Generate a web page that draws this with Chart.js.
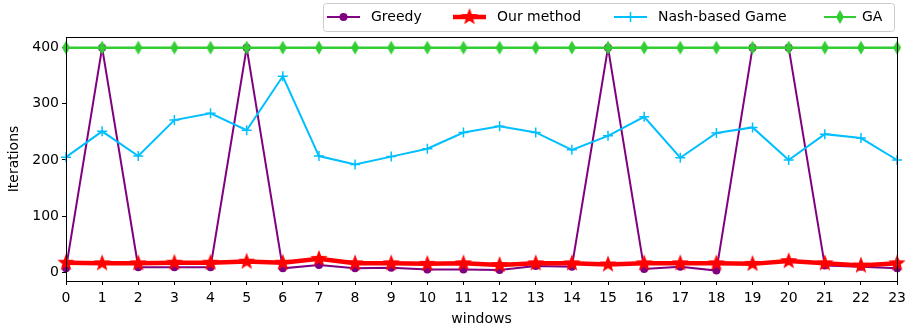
<!DOCTYPE html>
<html>
<head>
<meta charset="utf-8">
<script src="https://cdn.jsdelivr.net/npm/chart.js@4/dist/chart.umd.min.js"></script>
<style>
  html, body { margin: 0; padding: 0; background: #fff; }
  canvas { display: block; }
</style>
</head>
<body>
<canvas id="iterChart" width="911" height="328"></canvas>
<script>
// chart data
const windows = ['0','1','2','3','4','5','6','7','8','9','10','11','12','13','14','15','16','17','18','19','20','21','22','23'];
const greedy = [7, 400, 9, 9, 9, 400, 7, 13, 7, 8, 5, 5, 4, 11, 10, 400, 6, 10, 3, 400, 400, 12, 10, 7];
const ourMethod = [17, 16, 16, 17, 17, 19, 17, 24, 16, 16, 15, 16, 13, 16, 16, 14, 16, 16, 16, 15, 20, 16, 12, 16];
const nashGame = [205, 251, 207, 271, 283, 253, 349, 207, 192, 206, 220, 249, 260, 249, 218, 243, 277, 204, 248, 258, 200, 246, 239, 200];
const ga = [400, 400, 400, 400, 400, 400, 400, 400, 400, 400, 400, 400, 400, 400, 400, 400, 400, 400, 400, 400, 400, 400, 400, 400];
const yTicks = [0, 100, 200, 300, 400];

const FONT = 'DejaVu Sans';

// marker images
function starMarker(color, r) {
    const c = document.createElement('canvas');
    c.width = c.height = Math.ceil(r * 2 + 2);
    const g = c.getContext('2d');
    const cx = c.width / 2, cy = c.height / 2, ri = r * 0.42;
    g.beginPath();
    for (let i = 0; i < 10; i++) {
        const rad = i % 2 === 0 ? r : ri;
        const a = -Math.PI / 2 + i * Math.PI / 5;
        g.lineTo(cx + rad * Math.cos(a), cy + rad * Math.sin(a));
    }
    g.closePath();
    g.fillStyle = color;
    g.fill();
    return c;
}

function thinDiamond(color, w, h) {
    const c = document.createElement('canvas');
    c.width = w + 2;
    c.height = h + 2;
    const g = c.getContext('2d');
    const cx = c.width / 2, cy = c.height / 2;
    g.beginPath();
    g.moveTo(cx, cy - h / 2);
    g.lineTo(cx + w / 2, cy);
    g.lineTo(cx, cy + h / 2);
    g.lineTo(cx - w / 2, cy);
    g.closePath();
    g.fillStyle = color;
    g.fill();
    return c;
}

const starImg = starMarker('#ff0000', 9);
const diamondImg = thinDiamond('#32cd32', 8, 14);

// legend box in the upper right, drawn by hand (line + marker + text)
const legendBox = {
    id: 'legendBox',
    afterDraw(chart) {
        const ctx = chart.ctx;
        const x0 = 323, y0 = 3, w = 571, h = 28;
        ctx.save();
        ctx.fillStyle = 'rgba(255,255,255,0.8)';
        ctx.strokeStyle = '#cccccc';
        ctx.lineWidth = 1;
        ctx.beginPath();
        ctx.roundRect(x0 + 0.5, y0 + 0.5, w, h, 3);
        ctx.fill();
        ctx.stroke();

        const items = [
            { label: 'Greedy', color: '#800080', lw: 2, lx: 327, tx: 371, mark: 'circle' },
            { label: 'Our method', color: '#ff0000', lw: 4.5, lx: 453, tx: 497, mark: 'star' },
            { label: 'Nash-based Game', color: '#00bfff', lw: 2, lx: 614, tx: 658, mark: 'plus' },
            { label: 'GA', color: '#32cd32', lw: 2, lx: 824, tx: 862, mark: 'diamond' }
        ];
        const cy = 17;
        items.forEach(it => {
            const len = it.label === 'GA' ? 32 : 33;
            ctx.strokeStyle = it.color;
            ctx.lineWidth = it.lw;
            ctx.beginPath();
            ctx.moveTo(it.lx, cy);
            ctx.lineTo(it.lx + len, cy);
            ctx.stroke();
            const mx = it.lx + len / 2;
            if (it.mark === 'circle') {
                ctx.fillStyle = it.color;
                ctx.beginPath();
                ctx.arc(mx, cy, 4, 0, Math.PI * 2);
                ctx.fill();
            } else if (it.mark === 'star') {
                ctx.drawImage(starImg, mx - starImg.width / 2, cy - starImg.height / 2);
            } else if (it.mark === 'plus') {
                ctx.lineWidth = 1.5;
                ctx.beginPath();
                ctx.moveTo(mx - 5, cy); ctx.lineTo(mx + 5, cy);
                ctx.moveTo(mx, cy - 5); ctx.lineTo(mx, cy + 5);
                ctx.stroke();
            } else {
                ctx.drawImage(diamondImg, mx - diamondImg.width / 2, cy - diamondImg.height / 2);
            }
            ctx.fillStyle = '#000';
            ctx.font = '14px "' + FONT + '"';
            ctx.textBaseline = 'middle';
            ctx.fillText(it.label, it.tx, cy);
        });
        ctx.restore();
    }
};

// top and right spines
const frame = {
    id: 'frame',
    afterDatasetsDraw(chart) {
        const a = chart.chartArea;
        const ctx = chart.ctx;
        ctx.save();
        ctx.strokeStyle = '#000';
        ctx.lineWidth = 1;
        ctx.strokeRect(Math.round(a.left) + 0.5, Math.round(a.top) + 0.5,
            Math.round(a.right - a.left), Math.round(a.bottom - a.top));
        ctx.restore();
    }
};

new Chart(document.getElementById('iterChart').getContext('2d'), {
    type: 'line',
    data: {
        labels: windows,
        datasets: [
            {
                label: 'Greedy', data: greedy, order: 3,
                borderColor: '#800080', backgroundColor: '#800080', borderWidth: 2,
                pointStyle: 'circle', pointRadius: 4, pointBorderWidth: 0
            },
            {
                label: 'Our method', data: ourMethod, order: 2,
                borderColor: '#ff0000', backgroundColor: '#ff0000', borderWidth: 4.5,
                pointStyle: starImg, pointRadius: 9
            },
            {
                label: 'Nash-based Game', data: nashGame, order: 1,
                borderColor: '#00bfff', backgroundColor: '#00bfff', borderWidth: 2,
                pointStyle: 'cross', pointRadius: 5, pointBorderWidth: 1.5
            },
            {
                label: 'GA', data: ga, order: 0,
                borderColor: '#32cd32', backgroundColor: '#32cd32', borderWidth: 2.5,
                pointStyle: diamondImg, pointRadius: 7
            }
        ]
    },
    options: {
        responsive: false,
        animation: false,
        layout: { padding: { top: 37, right: 12, left: 0, bottom: 0 } },
        plugins: {
            legend: { display: false },
            tooltip: { enabled: false }
        },
        elements: { line: { tension: 0 } },
        scales: {
            x: {
                type: 'category',
                offset: false,
                grid: { drawOnChartArea: false, drawTicks: true, tickLength: 4, color: '#000' },
                border: { display: true, color: '#000', width: 1 },
                ticks: { color: '#000', font: { family: FONT, size: 14 }, padding: 5, maxRotation: 0, autoSkip: false },
                title: { display: true, text: 'windows', color: '#000', font: { family: FONT, size: 14 }, padding: { top: 0, bottom: 0 } },
                afterFit(scale) { scale.height = 47; }
            },
            y: {
                min: -15.5,
                max: 419,
                afterBuildTicks(scale) { scale.ticks = yTicks.map(v => ({ value: v })); },
                grid: { drawOnChartArea: false, drawTicks: true, tickLength: 4, color: '#000' },
                border: { display: true, color: '#000', width: 1 },
                ticks: { color: '#000', font: { family: FONT, size: 14 }, padding: 3 },
                title: { display: true, text: 'Iterations', color: '#000', font: { family: FONT, size: 14 }, padding: { top: 6, bottom: 0 } },
                afterFit(scale) { scale.width = 66; }
            }
        }
    },
    plugins: [frame, legendBox]
});
</script>
</body>
</html>
